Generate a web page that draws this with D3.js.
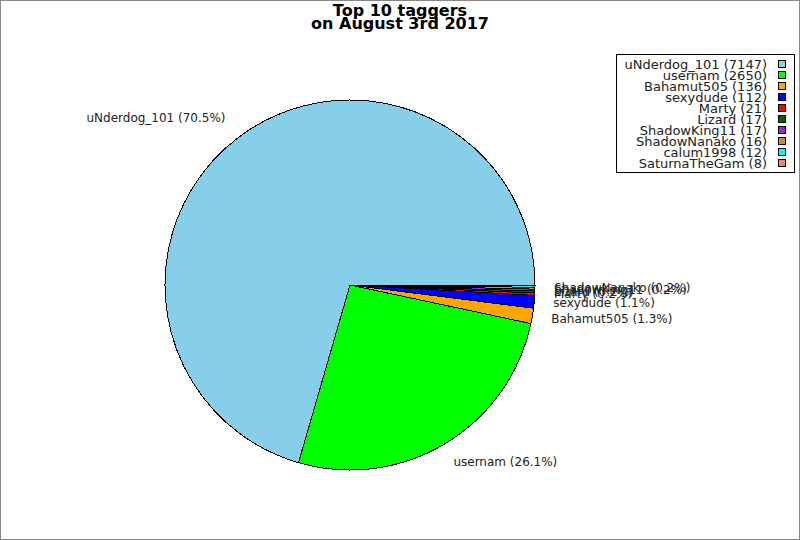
<!DOCTYPE html>
<html>
<head>
<meta charset="utf-8">
<script src="https://cdn.jsdelivr.net/npm/d3@7"></script>
<style>
	body { margin: 0; background: #fff; }
	svg { display: block; font-family: "DejaVu Sans", sans-serif; }
</style>
</head>
<body>
<div id="chart"></div>
<script>
// Top 10 taggers pie
var taggers = ["uNderdog_101", "usernam", "Bahamut505", "sexydude", "Marty",
	"Lizard", "ShadowKing11", "ShadowNanako", "calum1998", "SaturnaTheGam"];
var tagCounts = [7147, 2650, 136, 112, 21, 17, 17, 16, 12, 8];
var sliceColors = ["#87ceeb", "#00ff00", "#ffa500", "#0000ff", "#ff0000",
	"#006400", "#8a2be2", "#cd853f", "#00ffff", "#fa8072"];
var titleLines = ["Top 10 taggers", "on August 3rd 2017"];

var width = 800, height = 540;
var cx = 350, cy = 285, radius = 185;

var svg = d3.select("#chart").append("svg")
	.attr("width", width)
	.attr("height", height);

// frame
svg.append("rect")
	.attr("x", 0.5).attr("y", 0.5)
	.attr("width", width - 1).attr("height", height - 1)
	.attr("fill", "#fff")
	.attr("stroke", "#888");

// title
svg.selectAll(".title").data(titleLines).enter().append("text")
	.attr("class", "title")
	.attr("x", 400)
	.attr("y", function(d, i) { return 16 + i * 13; })
	.attr("text-anchor", "middle")
	.style("font-weight", "bold")
	.style("font-size", "16px")
	.text(function(d) { return d; });

var total = d3.sum(tagCounts);
var data = taggers.map(function(d, i) { return { name: d, value: tagCounts[i], color: sliceColors[i] }; });

// counter-clockwise from 3 o'clock
var pie = d3.pie()
	.sort(null)
	.value(function(d) { return d.value; })
	.startAngle(Math.PI / 2)
	.endAngle(Math.PI / 2 - 2 * Math.PI);

var arc = d3.arc().innerRadius(0).outerRadius(radius);

var g = svg.append("g")
	.attr("transform", "translate(" + cx + "," + cy + ")");

var arcs = pie(data);

g.selectAll("path").data(arcs).enter().append("path")
	.attr("d", arc)
	.attr("fill", function(d) { return d.data.color; })
	.attr("stroke", "#000")
	.attr("stroke-width", 1)
	.attr("shape-rendering", "crispEdges");

// labels (tiny slices below 0.15% are skipped)
var labelR = radius * 1.12;
g.selectAll(".lbl").data(arcs.filter(function(d) { return d.value / total >= 0.0015; }))
	.enter().append("text")
	.attr("class", "lbl")
	.each(function(d) {
		var a = (d.startAngle + d.endAngle) / 2;
		var x = Math.sin(a) * labelR, y = -Math.cos(a) * labelR;
		d3.select(this)
			.attr("x", x < 0 ? x : x - 3)
			.attr("y", y + 3)
			.attr("text-anchor", x < 0 ? "end" : "start");
	})
	.style("font-size", "12px")
	.attr("fill", "#222")
	.text(function(d) { return d.data.name + " (" + (d.value / total * 100).toFixed(1) + "%)"; });

// legend
var legend = svg.append("g");
legend.append("rect")
	.attr("x", 616.5).attr("y", 54.5)
	.attr("width", 178).attr("height", 118)
	.attr("fill", "#fff")
	.attr("stroke", "#000");

var rows = legend.selectAll(".row").data(data).enter().append("g")
	.attr("class", "row")
	.attr("transform", function(d, i) { return "translate(0," + (60 + i * 11) + ")"; });

rows.append("rect")
	.attr("x", 778.5).attr("y", 0.5)
	.attr("width", 7).attr("height", 7)
	.attr("fill", function(d) { return d.color; })
	.attr("stroke", "#000");

rows.append("text")
	.attr("x", 767)
	.attr("y", 8.5)
	.attr("text-anchor", "end")
	.style("font-size", "13px")
	.attr("fill", "#222")
	.text(function(d) { return d.name + " (" + d.value + ")"; });
</script>
</body>
</html>
